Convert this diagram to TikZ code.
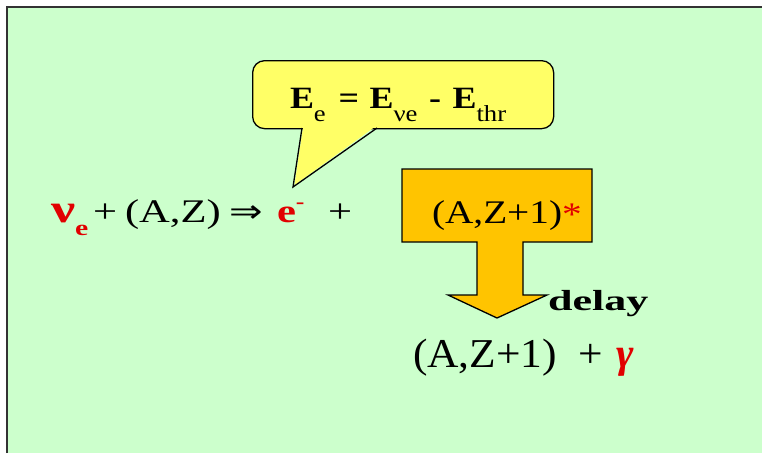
\documentclass[tikz,border=0pt]{standalone}
\usepackage{fontspec}
\setmainfont{Liberation Serif}
\newfontfamily\arrowfont{DejaVu Sans}
\definecolor{bggreen}{RGB}{204,255,204}
\definecolor{calloutyellow}{RGB}{255,255,102}
\definecolor{boxorange}{RGB}{255,196,0}
\definecolor{txtred}{RGB}{225,0,0}
\newcommand{\fs}[1]{\fontsize{#1}{#1}\selectfont}
\tikzset{
  txt/.style={inner sep=0pt, outer sep=0pt, anchor=base west},
  mainline/.style={txt, xscale=1.29, font=\fs{33}},
  outline/.style={draw=black, line width=1.3pt, line join=miter},
}
\begin{document}
\begin{tikzpicture}[x=1pt,y=-1pt]
\useasboundingbox (0,0) rectangle (762,453);
\fill[white] (0,0) rectangle (762,453);
\fill[bggreen] (7,7) rectangle (762,453);
\draw[line width=2.5pt, color=black!80] (7,453) -- (7,7) -- (762,7);

% callout
\node[outline, fill=calloutyellow, rounded corners=12pt, minimum width=301pt, minimum height=68pt, inner sep=0pt, anchor=north west] (callout) at (252,60) {};
\fill[calloutyellow] (303.2,126) -- (376,126) -- (294.5,185) -- cycle;
\coordinate (tailL) at (302,128);
\coordinate (tailR) at (377,128);
\coordinate (tailtip) at (293,187);
\draw[outline] (tailL) -- (tailtip) -- (tailR);
\node[txt, xscale=1.16, font=\fs{31}\bfseries] (eqE) at (290,108)
  {E\raisebox{-13pt}{\fs{23}\mdseries e}\hspace{11pt}=\hspace{9pt}E\raisebox{-13pt}{\fs{23}\mdseries νe}\hspace{10pt}-\hspace{10pt}E\raisebox{-13pt}{\fs{23}\mdseries thr}};

% orange arrow box
\draw[outline, fill=boxorange] (402,169) -- (592,169) -- (592,242) -- (523,242) -- (523,295)
  -- (547,295) -- (497,318) -- (448,295) -- (477,295) -- (477,242) -- (402,242) -- cycle;
\node[txt, xscale=1.19, font=\fs{33}] (excited) at (432,223) {(A,Z+1)\raisebox{-2pt}{\color{txtred}*}};

% main reaction line
\node[txt, text=txtred, xscale=1.35, font=\fs{40}\bfseries] (nu) at (51,222) {ν\raisebox{-13pt}{\fs{22}e}};
\node[mainline] (plusA) at (93,222) {+};
\node[mainline] (AZ) at (125,222) {(A,Z)};
\node[txt, xscale=1.25, font=\fs{32}\arrowfont] (arrow) at (229,222) {⇒};
\node[mainline, text=txtred, font=\fs{33}\bfseries] (elec) at (277,222) {e\raisebox{14pt}{\fs{20}-}};
\node[mainline] (plusB) at (328,222) {+};

% delay label
\node[txt, xscale=1.52, font=\fs{29}\bfseries] (delay) at (548,310) {delay};

% products
\node[txt, xscale=1.06, font=\fs{41}] (prod) at (413,367) {(A,Z+1)};
\node[txt, xscale=1.06, font=\fs{41}] (plusC) at (578,367) {+};
\node[txt, text=txtred, font=\fs{42}\bfseries\itshape] (gamma) at (616,367) {γ};
\end{tikzpicture}
\end{document}
